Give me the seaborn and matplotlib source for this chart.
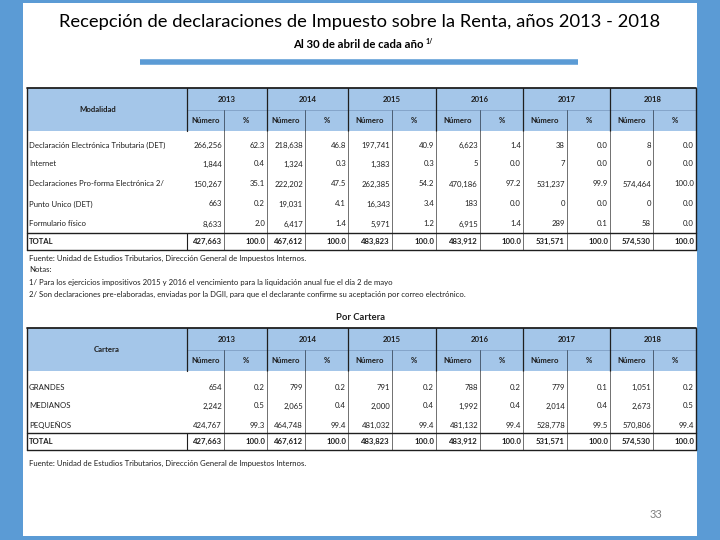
# Slide with the two tables of income tax returns received (2013-2018).

import matplotlib
matplotlib.use("Agg")

import matplotlib.pyplot as plt
from matplotlib.patches import Rectangle
import seaborn as sns

sns.set_theme(style="white")
plt.rcParams["font.family"] = ["Lato", "DejaVu Sans"]

# ---- data ----
years = ["2013", "2014", "2015", "2016", "2017", "2018"]

modalidades = [
    "Declaración Electrónica Tributaria (DET)",
    "Internet",
    "Declaraciones Pro-forma Electrónica 2/",
    "Punto Unico (DET)",
    "Formulario físico",
]
modalidadNum = [
    [266256, 218638, 197741, 6623, 38, 8],
    [1844, 1324, 1383, 5, 7, 0],
    [150267, 222202, 262385, 470186, 531237, 574464],
    [663, 19031, 16343, 183, 0, 0],
    [8633, 6417, 5971, 6915, 289, 58],
]
modalidadPct = [
    [62.3, 46.8, 40.9, 1.4, 0.0, 0.0],
    [0.4, 0.3, 0.3, 0.0, 0.0, 0.0],
    [35.1, 47.5, 54.2, 97.2, 99.9, 100.0],
    [0.2, 4.1, 3.4, 0.0, 0.0, 0.0],
    [2.0, 1.4, 1.2, 1.4, 0.1, 0.0],
]

carteras = ["GRANDES", "MEDIANOS", "PEQUEÑOS"]
carteraNum = [
    [654, 799, 791, 788, 779, 1051],
    [2242, 2065, 2000, 1992, 2014, 2673],
    [424767, 464748, 481032, 481132, 528778, 570806],
]
carteraPct = [
    [0.2, 0.2, 0.2, 0.2, 0.1, 0.2],
    [0.5, 0.4, 0.4, 0.4, 0.4, 0.5],
    [99.3, 99.4, 99.4, 99.4, 99.5, 99.4],
]

totalNum = [427663, 467612, 483823, 483912, 531571, 574530]
totalPct = [100.0, 100.0, 100.0, 100.0, 100.0, 100.0]

title = "Recepción de declaraciones de Impuesto sobre la Renta, años 2013 - 2018"
subtitle = "Al 30 de abril de cada año"
fuente = "Fuente: Unidad de Estudios Tributarios, Dirección General de Impuestos Internos."
notas = [
    "Notas:",
    "1/ Para los ejercicios impositivos 2015 y 2016 el vencimiento para la liquidación anual fue el día 2 de mayo",
    "2/ Son declaraciones pre-elaboradas, enviadas por la DGII, para que el declarante confirme su aceptación por correo electrónico.",
]

# ---- style ----
frameBlue = "#5b9bd5"
headerBlue = "#a4c6e9"
textColor = "#1e1e1e"
lineDark = "#1f1f1f"
lineGray = "#5a5a5a"
smallSize = 5.6

# column edges (pixels): label column, then Número / % for each year
colEdges = [27, 187, 224, 267, 305, 348, 392, 436, 480, 523, 567, 610, 653, 696]


def drawTable(ax, top, labelText, labelX, rowLabels, nums, pcts, rowYs, totalY):
    left, right = colEdges[0], colEdges[-1]
    mid = top + 22
    hdrBottom = top + 43
    totalTop = totalY - 8
    bottom = totalY + 9

    ax.add_patch(Rectangle((left, top), right - left, hdrBottom - top,
                           facecolor=headerBlue, edgecolor="none", zorder=1))
    # header lines
    ax.plot([colEdges[1], right], [mid, mid], color="#7f9fc4", lw=0.6, zorder=2)
    ax.plot([colEdges[1], colEdges[1]], [top, hdrBottom], color=lineDark, lw=0.9, zorder=2)
    for i in range(len(years)):
        numRight = colEdges[2 + 2 * i]
        pctRight = colEdges[3 + 2 * i]
        if pctRight != right:
            ax.plot([pctRight, pctRight], [top, hdrBottom], color=lineDark, lw=0.9, zorder=2)
        ax.plot([numRight, numRight], [mid, hdrBottom], color="#3c4d60", lw=0.6, zorder=2)
        yearX = (colEdges[1 + 2 * i] + pctRight) / 2
        ax.text(yearX, (top + mid) / 2 + 1, years[i], ha="center", va="center",
                fontsize=smallSize, fontweight="bold", color=textColor)
        ax.text((colEdges[1 + 2 * i] + numRight) / 2, (mid + hdrBottom) / 2, "Número",
                ha="center", va="center", fontsize=smallSize, fontweight="bold", color=textColor)
        ax.text((numRight + pctRight) / 2, (mid + hdrBottom) / 2, "%",
                ha="center", va="center", fontsize=smallSize, fontweight="bold", color=textColor)
    ax.text(labelX, (top + hdrBottom) / 2, labelText, ha="center", va="center",
            fontsize=smallSize, fontweight="bold", color=textColor)

    # body vertical lines
    for x in colEdges[2:-1]:
        ax.plot([x, x], [hdrBottom, bottom], color=lineGray, lw=0.6, zorder=2)
    ax.plot([colEdges[1], colEdges[1]], [totalTop, bottom], color=lineDark, lw=0.8, zorder=2)

    # outer border and total row lines
    ax.plot([left, right], [top, top], color=lineDark, lw=1.3, zorder=3)
    ax.plot([left, left], [top, bottom], color=lineDark, lw=1.0, zorder=3)
    ax.plot([right, right], [top, bottom], color=lineDark, lw=1.0, zorder=3)
    ax.plot([left, right], [totalTop, totalTop], color=lineDark, lw=1.0, zorder=3)
    ax.plot([left, right], [bottom, bottom], color=lineDark, lw=1.0, zorder=3)

    # body values
    allLabels = rowLabels + ["TOTAL"]
    allNums = nums + [totalNum]
    allPcts = pcts + [totalPct]
    allYs = rowYs + [totalY]
    for r in range(len(allLabels)):
        isTotal = allLabels[r] == "TOTAL"
        weight = "bold" if isTotal else "normal"
        ax.text(left + 2, allYs[r], allLabels[r], ha="left", va="center",
                fontsize=smallSize, fontweight=weight, color=textColor)
        for i in range(len(years)):
            numRight = colEdges[2 + 2 * i]
            pctRight = colEdges[3 + 2 * i]
            ax.text(numRight - 2, allYs[r], f"{allNums[r][i]:,}", ha="right", va="center",
                    fontsize=smallSize, fontweight=weight, color=textColor)
            ax.text(pctRight - 2, allYs[r], f"{allPcts[r][i]:.1f}", ha="right", va="center",
                    fontsize=smallSize, fontweight=weight, color=textColor)


fig = plt.figure(figsize=(7.2, 5.4), dpi=100)
fig.patch.set_facecolor(frameBlue)
ax = fig.add_axes([0, 0, 1, 1])
ax.set_xlim(0, 720)
ax.set_ylim(540, 0)
ax.axis("off")

# white slide area
ax.add_patch(Rectangle((23, 3), 674, 533, facecolor="white", edgecolor="none", zorder=0))

ax.text(360, 22, title, ha="center", va="center", fontsize=13.2, color="black")
ax.text(424, 45, subtitle, ha="right", va="center", fontsize=8.2, fontweight="bold", color="black")
ax.text(426, 42, "1/", ha="left", va="center", fontsize=5, fontweight="bold", color="black")
ax.plot([140, 578], [62, 62], color=frameBlue, lw=4, solid_capstyle="butt")

drawTable(ax, 88, "Modalidad", 98, modalidades, modalidadNum, modalidadPct,
          [145, 164, 184, 204, 224], 241)

ax.text(29, 258, fuente, ha="left", va="center", fontsize=smallSize, color=textColor)
for k, line in enumerate(notas):
    ax.text(29, 270 + 12 * k, line, ha="left", va="center", fontsize=smallSize, color=textColor)

ax.text(361, 318, "Por Cartera", ha="center", va="center", fontsize=6.8,
        fontweight="bold", color=textColor)

drawTable(ax, 328, "Cartera", 107, carteras, carteraNum, carteraPct,
          [387, 406, 425], 441)

ax.text(29, 463, fuente, ha="left", va="center", fontsize=smallSize, color=textColor)

ax.text(656, 515, "33", ha="center", va="center", fontsize=8, color="#7f7f7f")

fig.savefig("out.png", dpi=100, facecolor=fig.get_facecolor())
